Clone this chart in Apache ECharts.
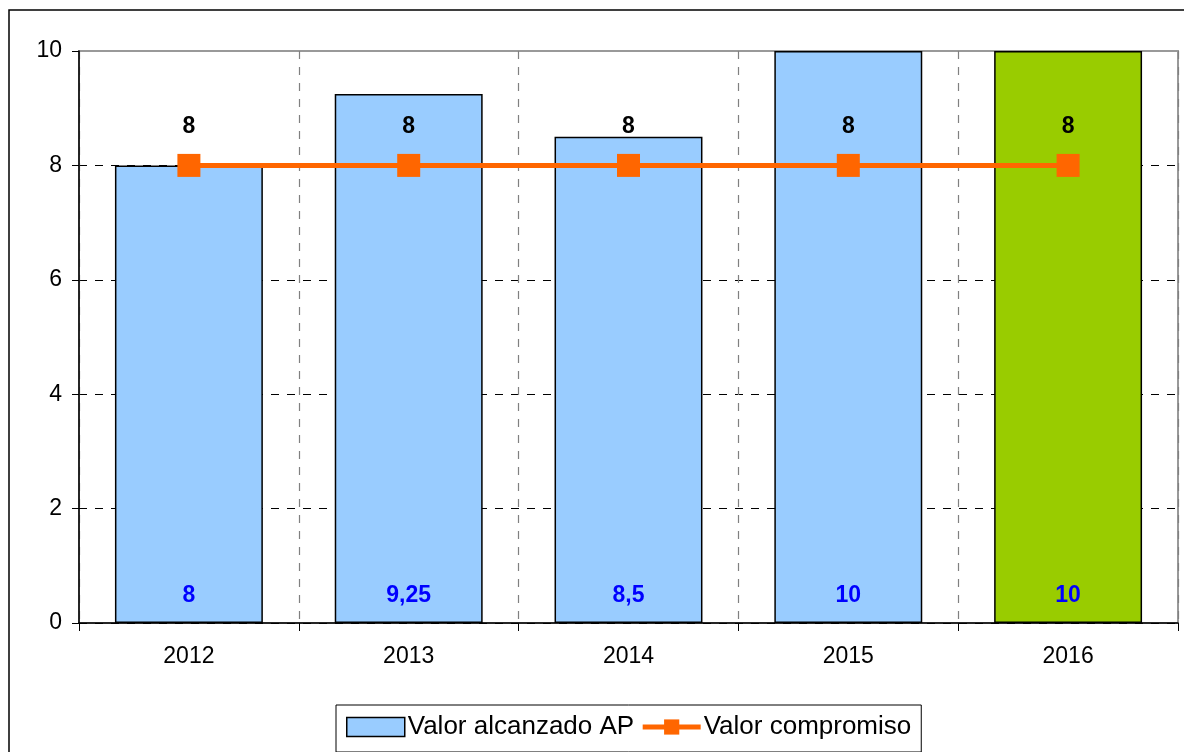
<!DOCTYPE html>
<html><head><meta charset="utf-8">
<script src="https://cdn.jsdelivr.net/npm/echarts@6/dist/echarts.min.js"></script>
<style>html,body{margin:0;padding:0;background:#fff;overflow:hidden}#c{width:1184px;height:752px}</style>
</head><body><div id="c"></div>
<script>
const years = ['2012','2013','2014','2015','2016'];
const valorAlcanzado = [8, 9.25, 8.5, 10, 10];
const valorCompromiso = [8, 8, 8, 8, 8];
const barColors = ['#99CCFF','#99CCFF','#99CCFF','#99CCFF','#99CC00'];
const yTicks = {min:0, max:10, interval:2};

const chart = echarts.init(document.getElementById('c'));
const fmt = v => String(v).replace('.', ',');
const FF = 'Arial, Liberation Sans, sans-serif';
chart.setOption({
  animation:false,
  backgroundColor:'#fff',
  textStyle:{fontFamily:FF},
  graphic:[{type:'rect', shape:{x:9,y:10,width:1300,height:900}, style:{fill:'none',stroke:'#000',lineWidth:1.5}, z:-1}],
  grid:{left:79, top:51, width:1099, height:572, show:true, borderColor:'#999', borderWidth:2, backgroundColor:'transparent'},
  legend:{
    top:705, left:336, itemGap:6, padding:[9,10,12,10],
    borderColor:'#000', borderWidth:1, backgroundColor:'#fff',
    textStyle:{fontSize:26, color:'#000', fontFamily:FF, padding:[0,0,0,-2]},
    data:[
      {name:'Valor alcanzado AP', icon:'rect', itemStyle:{color:'#99CCFF', borderColor:'#000', borderWidth:1.5}},
      {name:'Valor compromiso', lineStyle:{width:5, color:'#FF6600'}}
    ],
    itemWidth:58, itemHeight:19
  },
  xAxis:{
    type:'category', data:years, boundaryGap:true,
    axisLine:{lineStyle:{color:'#000', width:1.5}},
    axisTick:{show:true, length:8, lineStyle:{color:'#000'}},
    axisLabel:{fontSize:23, color:'#000', margin:22},
    splitLine:{show:true, lineStyle:{color:'#808080', type:[8,8], width:1.2}}
  },
  yAxis:{
    type:'value', min:yTicks.min, max:yTicks.max, interval:yTicks.interval,
    axisLine:{show:true, lineStyle:{color:'#000', width:1.5}},
    axisTick:{show:true, length:7, lineStyle:{color:'#000'}},
    axisLabel:{fontSize:23, color:'#000', margin:17},
    splitLine:{show:true, showMaxLine:false, lineStyle:{color:'#000', type:[8,8], width:1}}
  },
  series:[
    {
      name:'Valor alcanzado AP', type:'bar', barWidth:'67.3%',
      data: valorAlcanzado.map((v,i)=>({value:v, itemStyle:{color:barColors[i]}})),
      itemStyle:{borderColor:'#000', borderWidth:1.5},
      label:{show:true, position:'insideBottom', distance:16, color:'#0000FF', fontWeight:'bold', fontSize:23, formatter:p=>fmt(p.value)},
      z:2
    },
    {
      name:'Valor compromiso', type:'line', data:valorCompromiso,
      color:'#FF6600',
      lineStyle:{color:'#FF6600', width:5},
      symbol:'rect', symbolSize:23,
      itemStyle:{color:'#FF6600'},
      label:{show:true, position:'top', distance:16, color:'#000', fontWeight:'bold', fontSize:23, formatter:p=>fmt(p.value)},
      z:3
    }
  ]
});
</script></body></html>
